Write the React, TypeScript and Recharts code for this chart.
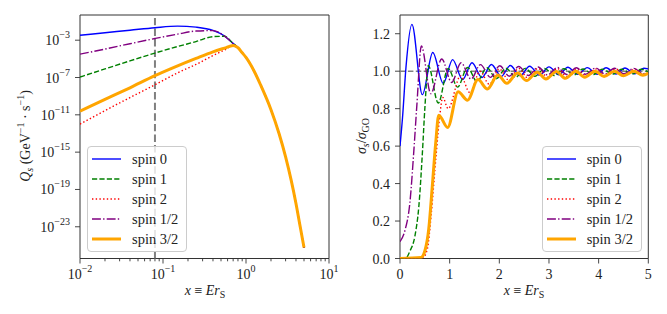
import React from "react";
import {
  LineChart,
  Line,
  XAxis,
  YAxis,
  ReferenceLine,
  ReferenceArea,
  Legend,
} from "recharts";

// ---- left panel: emission rate Q_s vs x (log-log) ----
const leftX = [0.01, 0.02, 0.04, 0.08, 0.15, 0.25, 0.4, 0.55, 0.7, 0.8, 0.9, 1.0, 1.25, 1.5, 2, 2.5, 3, 3.5, 4, 4.5, 5];

const qSpin0 = [3.39e-3, 6.31e-3, 1.17e-2, 2.19e-2, 3.24e-2, 2.51e-2, 1.12e-2, 2.82e-3, 4.47e-4, 1.58e-4, 4.47e-5, 1.41e-5, 5.0e-7, 1.58e-8, 3.55e-11, 1.0e-13, 3.16e-16, 1.0e-18, 3.16e-21, 1.0e-23, 6.0e-26];
const qSpin1 = [1.12e-7, 8.32e-7, 6.03e-6, 4.17e-5, 2.09e-4, 7.08e-4, 2.4e-3, 2.63e-3, 4.47e-4, 1.58e-4, 4.47e-5, 1.41e-5, 5.0e-7, 1.58e-8, 3.55e-11, 1.0e-13, 3.16e-16, 1.0e-18, 3.16e-21, 1.0e-23, 6.0e-26];
const qSpin2 = [1.0e-12, 2.82e-11, 7.08e-10, 1.66e-8, 3.16e-7, 2.51e-6, 2.24e-5, 8.91e-5, 2.4e-4, 1.58e-4, 4.47e-5, 1.41e-5, 5.0e-7, 1.58e-8, 3.55e-11, 1.0e-13, 3.16e-16, 1.0e-18, 3.16e-21, 1.0e-23, 6.0e-26];
const qSpinHalf = [3.16e-5, 1.12e-4, 4.17e-4, 1.51e-3, 4.47e-3, 9.55e-3, 1.07e-2, 2.82e-3, 4.47e-4, 1.58e-4, 4.47e-5, 1.41e-5, 5.0e-7, 1.58e-8, 3.55e-11, 1.0e-13, 3.16e-16, 1.0e-18, 3.16e-21, 1.0e-23, 6.0e-26];
const qSpin3Half = [2.51e-11, 4.47e-10, 7.94e-9, 1.58e-7, 1.78e-6, 1.12e-5, 5.62e-5, 1.41e-4, 2.75e-4, 1.58e-4, 4.47e-5, 1.41e-5, 5.0e-7, 1.58e-8, 3.55e-11, 1.0e-13, 3.16e-16, 1.0e-18, 3.16e-21, 1.0e-23, 6.0e-26];

const leftXMajor = [0.01, 0.1, 1, 10];
const leftXTicks = [
  0.01, 0.02, 0.03, 0.04, 0.05, 0.06, 0.07, 0.08, 0.09,
  0.1, 0.2, 0.3, 0.4, 0.5, 0.6, 0.7, 0.8, 0.9,
  1, 2, 3, 4, 5, 6, 7, 8, 9, 10,
];
const leftYTicks = [1e-23, 1e-19, 1e-15, 1e-11, 1e-7, 1e-3];
const leftYDomain = [Math.pow(10, -26.4), Math.pow(10, -0.3)];
const markerX = 0.08;

// ---- right panel: sigma_s / sigma_GO vs x ----
const s0X = [0, 0.05, 0.12, 0.24, 0.45, 0.66, 0.87, 1.06, 1.26, 1.45, 1.65, 1.84, 2.04, 2.22, 2.42, 2.61, 2.81, 3.0, 3.2, 3.38, 3.58, 3.77, 3.97, 4.15, 4.35, 4.53, 4.73, 4.91, 5.0];
const s0Y = [0.6, 0.75, 1.02, 1.25, 0.875, 1.1, 0.935, 1.062, 0.955, 1.045, 0.966, 1.036, 0.972, 1.03, 0.976, 1.026, 0.979, 1.023, 0.981, 1.021, 0.983, 1.019, 0.984, 1.018, 0.985, 1.017, 0.986, 1.016, 1.012];

const s1X = [0, 0.12, 0.2, 0.3, 0.38, 0.45, 0.5, 0.57, 0.77, 0.97, 1.16, 1.36, 1.55, 1.75, 1.94, 2.13, 2.33, 2.52, 2.72, 2.91, 3.11, 3.3, 3.5, 3.69, 3.89, 4.08, 4.28, 4.47, 4.67, 4.86, 5.0];
const s1Y = [0, 0.003, 0.04, 0.12, 0.28, 0.56, 0.8, 1.03, 0.83, 1.015, 0.915, 1.02, 0.945, 1.018, 0.96, 1.016, 0.968, 1.015, 0.973, 1.014, 0.977, 1.013, 0.98, 1.012, 0.982, 1.011, 0.984, 1.01, 0.985, 1.01, 0.995];

const s2X = [0, 0.46, 0.55, 0.63, 0.73, 0.8, 0.86, 0.97, 1.22, 1.41, 1.61, 1.8, 2.0, 2.19, 2.39, 2.58, 2.78, 2.97, 3.17, 3.36, 3.56, 3.75, 3.95, 4.14, 4.34, 4.53, 4.73, 4.92, 5.0];
const s2Y = [0, 0.005, 0.05, 0.24, 0.56, 0.76, 0.86, 0.8, 0.975, 0.885, 1.0, 0.93, 1.012, 0.952, 1.015, 0.962, 1.015, 0.968, 1.014, 0.972, 1.013, 0.975, 1.012, 0.977, 1.012, 0.979, 1.011, 0.98, 0.99];

const sHalfX = [0, 0.1, 0.2, 0.28, 0.34, 0.43, 0.62, 0.84, 1.04, 1.23, 1.43, 1.62, 1.82, 2.01, 2.2, 2.39, 2.59, 2.78, 2.97, 3.17, 3.36, 3.55, 3.74, 3.94, 4.13, 4.32, 4.51, 4.71, 4.9, 5.0];
const sHalfY = [0.09, 0.15, 0.3, 0.58, 0.82, 1.135, 0.88, 1.065, 0.94, 1.045, 0.958, 1.035, 0.967, 1.029, 0.973, 1.025, 0.977, 1.022, 0.98, 1.02, 0.982, 1.018, 0.984, 1.017, 0.985, 1.016, 0.986, 1.015, 0.987, 0.99];

const s3HalfX = [0, 0.42, 0.5, 0.58, 0.65, 0.72, 0.78, 0.96, 1.17, 1.36, 1.57, 1.76, 1.97, 2.15, 2.37, 2.55, 2.76, 2.94, 3.15, 3.33, 3.54, 3.72, 3.93, 4.11, 4.32, 4.5, 4.71, 4.89, 5.0];
const s3HalfY = [0, 0.005, 0.04, 0.16, 0.385, 0.62, 0.765, 0.7, 0.89, 0.845, 0.955, 0.905, 0.98, 0.935, 0.99, 0.95, 0.995, 0.958, 0.998, 0.962, 1.0, 0.968, 1.0, 0.972, 1.0, 0.976, 1.0, 0.978, 0.99];

const rightXTicks = [0, 1, 2, 3, 4, 5];
const rightYTicks = [0, 0.2, 0.4, 0.6, 0.8, 1.0, 1.2];

const FONT = "'Liberation Serif', 'DejaVu Serif', serif";
const INK = "#222";
const SPINE = "#333";

const series = [
  { key: "s0", label: "spin 0", color: "blue", width: 1.4, dash: undefined },
  { key: "s1", label: "spin 1", color: "green", width: 1.4, dash: "5.2 2.2" },
  { key: "s2", label: "spin 2", color: "red", width: 1.4, dash: "1.4 2.3" },
  { key: "sHalf", label: "spin 1/2", color: "purple", width: 1.4, dash: "8.9 2.2 1.4 2.2" },
  { key: "s3Half", label: "spin 3/2", color: "orange", width: 3, dash: undefined },
];

const leftData = leftX.map((x, i) => ({
  x,
  s0: qSpin0[i],
  s1: qSpin1[i],
  s2: qSpin2[i],
  sHalf: qSpinHalf[i],
  s3Half: qSpin3Half[i],
}));

const toPts = (xs: number[], ys: number[]) => xs.map((x, i) => ({ x, y: ys[i] }));
const rightData: Record<string, { x: number; y: number }[]> = {
  s0: toPts(s0X, s0Y),
  s1: toPts(s1X, s1Y),
  s2: toPts(s2X, s2Y),
  sHalf: toPts(sHalfX, sHalfY),
  s3Half: toPts(s3HalfX, s3HalfY),
};

const expOf = (v: number) => {
  const e = Math.round(Math.log10(v));
  return e < 0 ? `\u2212${-e}` : `${e}`;
};

function LogXTick(props: any) {
  const { x, y, payload } = props;
  const major = leftXMajor.includes(payload.value);
  return (
    <g>
      <line x1={x} x2={x} y1={y} y2={y + (major ? 5 : 2.8)} stroke={SPINE} strokeWidth={0.9} />
      {major && (
        <text x={x} y={y + 20} textAnchor="middle" fontFamily={FONT} fontSize={14} fill={INK}>
          10
          <tspan fontSize={10} dy={-7}>{expOf(payload.value)}</tspan>
        </text>
      )}
    </g>
  );
}

function LogYTick(props: any) {
  const { x, y, payload } = props;
  return (
    <g>
      <line x1={x} x2={x - 5} y1={y} y2={y} stroke={SPINE} strokeWidth={0.9} />
      <text x={x - 10} y={y + 5} textAnchor="end" fontFamily={FONT} fontSize={14} fill={INK}>
        10
        <tspan fontSize={10} dy={-7}>{expOf(payload.value)}</tspan>
      </text>
    </g>
  );
}

function LinXTick(props: any) {
  const { x, y, payload } = props;
  return (
    <g>
      <line x1={x} x2={x} y1={y} y2={y + 5} stroke={SPINE} strokeWidth={0.9} />
      <text x={x} y={y + 20} textAnchor="middle" fontFamily={FONT} fontSize={14} fill={INK}>
        {payload.value}
      </text>
    </g>
  );
}

function LinYTick(props: any) {
  const { x, y, payload } = props;
  return (
    <g>
      <line x1={x} x2={x - 5} y1={y} y2={y} stroke={SPINE} strokeWidth={0.9} />
      <text x={x - 10} y={y + 5} textAnchor="end" fontFamily={FONT} fontSize={14} fill={INK}>
        {Number(payload.value).toFixed(1)}
      </text>
    </g>
  );
}

function LegendBox() {
  return (
    <div
      style={{
        width: 100,
        height: 106,
        boxSizing: "border-box",
        border: "1px solid #cccccc",
        borderRadius: 4,
        background: "rgba(255,255,255,0.8)",
        paddingTop: 2,
      }}
    >
      {series.map((s) => (
        <div key={s.key} style={{ height: 20, display: "flex", alignItems: "center" }}>
          <svg width={40} height={20} style={{ display: "block" }}>
            <line
              x1={4}
              x2={33}
              y1={10}
              y2={10}
              stroke={s.color}
              strokeWidth={s.width}
              strokeDasharray={s.dash}
            />
          </svg>
          <span style={{ fontFamily: FONT, fontSize: 14.5, color: INK, marginLeft: 4, lineHeight: "20px" }}>
            {s.label}
          </span>
        </div>
      ))}
    </div>
  );
}

export default function App() {
  return (
    <div style={{ position: "absolute", left: 0, top: 0, width: 667, height: 314, background: "#fff" }}>
      <div style={{ position: "absolute", left: 0, top: 0 }}>
        <LineChart width={345} height={314} data={leftData} margin={{ top: 15, right: 16, bottom: 0, left: 0 }}>
          <XAxis
            dataKey="x"
            type="number"
            scale="log"
            domain={[0.01, 10]}
            allowDataOverflow
            ticks={leftXTicks}
            interval={0}
            tick={<LogXTick />}
            tickLine={false}
            axisLine={false}
            tickSize={0}
            tickMargin={0}
            height={55.5}
          />
          <YAxis
            type="number"
            scale="log"
            domain={leftYDomain}
            allowDataOverflow
            ticks={leftYTicks}
            interval={0}
            tick={<LogYTick />}
            tickLine={false}
            axisLine={false}
            tickSize={0}
            tickMargin={0}
            width={80}
          />
          <ReferenceLine x={markerX} stroke="#808080" strokeWidth={2} strokeDasharray="7.4 3.2" />
          {series.map((s) => (
            <Line
              key={s.key}
              dataKey={s.key}
              type="monotone"
              stroke={s.color}
              strokeWidth={s.width}
              strokeDasharray={s.dash}
              dot={false}
              activeDot={false}
              isAnimationActive={false}
            />
          ))}
          <ReferenceArea
            x1={0.01}
            x2={10}
            y1={leftYDomain[0]}
            y2={leftYDomain[1]}
            fill="none"
            stroke={SPINE}
            strokeWidth={1}
          />
          <Legend
            layout="vertical"
            align="center"
            verticalAlign="middle"
            content={() => <LegendBox />}
            wrapperStyle={{ left: 87, top: 146, width: 100, height: 106 }}
          />
        </LineChart>
      </div>

      <div style={{ position: "absolute", left: 333, top: 0 }}>
        <LineChart width={334} height={314} margin={{ top: 15, right: 18.7, bottom: 0, left: 0 }}>
          <XAxis
            dataKey="x"
            type="number"
            domain={[0, 5]}
            allowDataOverflow
            ticks={rightXTicks}
            interval={0}
            tick={<LinXTick />}
            tickLine={false}
            axisLine={false}
            tickSize={0}
            tickMargin={0}
            height={55.5}
          />
          <YAxis
            type="number"
            domain={[0, 1.3]}
            allowDataOverflow
            ticks={rightYTicks}
            interval={0}
            tick={<LinYTick />}
            tickLine={false}
            axisLine={false}
            tickSize={0}
            tickMargin={0}
            width={67}
          />
          <ReferenceLine y={1} stroke="#808080" strokeWidth={1.5} strokeDasharray="5.5 2.4" />
          {series.map((s) => (
            <Line
              key={s.key}
              data={rightData[s.key]}
              dataKey="y"
              type="monotone"
              stroke={s.color}
              strokeWidth={s.width}
              strokeDasharray={s.dash}
              dot={false}
              activeDot={false}
              isAnimationActive={false}
            />
          ))}
          <ReferenceArea x1={0} x2={5} y1={0} y2={1.3} fill="none" stroke={SPINE} strokeWidth={1} />
          <Legend
            layout="vertical"
            align="center"
            verticalAlign="middle"
            content={() => <LegendBox />}
            wrapperStyle={{ left: 208.7, top: 146, width: 100, height: 106 }}
          />
        </LineChart>
      </div>

      <svg width={667} height={314} style={{ position: "absolute", left: 0, top: 0, pointerEvents: "none" }}>
        <g fontFamily={FONT} fontSize={14} fill={INK}>
          <text x={205} y={295} textAnchor="middle">
            <tspan fontStyle="italic">x</tspan> ≡ <tspan fontStyle="italic">Er</tspan>
            <tspan fontSize={10} dy={3}>S</tspan>
          </text>
          <text x={524} y={295} textAnchor="middle">
            <tspan fontStyle="italic">x</tspan> ≡ <tspan fontStyle="italic">Er</tspan>
            <tspan fontSize={10} dy={3}>S</tspan>
          </text>
          <text transform="translate(30,136) rotate(-90)" textAnchor="middle">
            <tspan fontStyle="italic">Q</tspan>
            <tspan fontStyle="italic" fontSize={10} dy={3}>s</tspan>
            <tspan dy={-3}> (GeV</tspan>
            <tspan fontSize={10} dy={-6}>−1</tspan>
            <tspan dy={6}> · s</tspan>
            <tspan fontSize={10} dy={-6}>−1</tspan>
            <tspan dy={6}>)</tspan>
          </text>
          <text transform="translate(366,136) rotate(-90)" textAnchor="middle">
            <tspan fontStyle="italic">σ</tspan>
            <tspan fontStyle="italic" fontSize={10} dy={3}>s</tspan>
            <tspan dy={-3}>/</tspan>
            <tspan fontStyle="italic">σ</tspan>
            <tspan fontSize={10} dy={3}>GO</tspan>
          </text>
        </g>
      </svg>
    </div>
  );
}
